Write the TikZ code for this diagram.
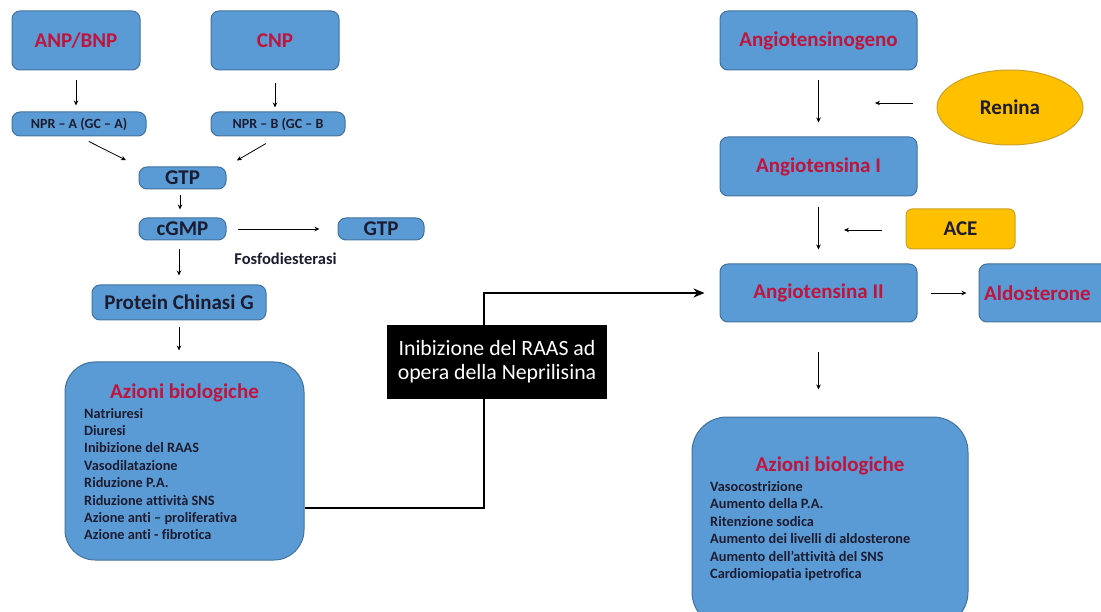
\documentclass[tikz,border=0pt]{standalone}
\usepackage{fontspec}
\setmainfont{Carlito}[Ligatures=NoCommon]
\usetikzlibrary{shapes.geometric,arrows.meta}
\definecolor{boxblue}{HTML}{5B9BD5}
\definecolor{boxline}{HTML}{41719C}
\definecolor{gold}{HTML}{FFC000}
\definecolor{goldline}{HTML}{C9A227}
\definecolor{redtxt}{HTML}{C0143C}
\definecolor{darktxt}{HTML}{1C1C30}
\begin{document}
\begin{tikzpicture}[x=1pt,y=-1pt,
	box/.style={shape=rectangle, rounded corners=8pt, draw=boxline, line width=1pt, fill=boxblue, inner sep=0pt},
	goldbox/.style={box, fill=gold, draw=goldline, rounded corners=6pt},
	big/.style={font=\bfseries\fontsize{21}{25}\selectfont},
	small/.style={font=\bfseries\fontsize{14}{16}\selectfont, text=darktxt},
	title/.style={font=\bfseries\fontsize{21}{25}\selectfont, text=redtxt},
	item/.style={anchor=base west, inner sep=0pt, font=\bfseries\fontsize{14.3}{17}\selectfont, text=darktxt},
	arr/.style={-{Stealth[length=5pt,width=4.5pt]}, line width=0.8pt},
	link/.style={line width=2.5pt},
	]
	\useasboundingbox (0,0) rectangle (1101,612);
	\node[box, big, text=redtxt, minimum width=128pt, minimum height=59pt] (anp) at (76,40.5) {ANP/BNP};
	\node[box, big, text=redtxt, minimum width=128pt, minimum height=59pt] (cnp) at (275,40.5) {CNP};
	\node[box, small, minimum width=134pt, minimum height=24pt] (npra) at (79,124) {NPR – A (GC – A)};
	\node[box, small, minimum width=134pt, minimum height=24pt] (nprb) at (278,124) {NPR – B (GC – B};
	\node[box, big, text=darktxt, minimum width=87pt, minimum height=22pt] (gtpA) at (182.5,178) {GTP};
	\node[box, big, text=darktxt, minimum width=87pt, minimum height=22pt] (cgmp) at (182.5,229) {cGMP};
	\node[box, big, text=darktxt, minimum width=86pt, minimum height=22pt] (gtpB) at (381,229) {GTP};
	\node[font=\bfseries\fontsize{16.5}{18}\selectfont, text=darktxt] (fosfo) at (285.5,259) {Fosfodiesterasi};
	\node[box, big, text=darktxt, minimum width=174pt, minimum height=35pt] (pkg) at (179,302.5) {Protein Chinasi G};
	\node[box, rounded corners=30pt, minimum width=239pt, minimum height=198pt] (azL) at (184.5,461) {};
	\node[title] (azLt) at (184.5,393) {Azioni biologiche};
	\foreach \t [count=\i] in {Natriuresi, Diuresi, Inibizione del RAAS, Vasodilatazione, Riduzione P.A., Riduzione attività SNS, Azione anti – proliferativa, Azione anti - fibrotica}
		\node[item] (azL\i) at (84,{418+17.4*(\i-1)}) {\t};

	\node[fill=black, text=white, align=center, inner sep=0pt, minimum width=220pt, minimum height=74pt, font=\fontsize{21.8}{24}\selectfont] (inib) at (497,362) {Inibizione del RAAS ad\\opera della Neprilisina};

	\node[box, big, text=redtxt, minimum width=197pt, minimum height=59pt] (agen) at (818.5,40.5) {Angiotensinogeno};
	\node[ellipse, fill=gold, draw=goldline, line width=1pt, minimum width=146pt, minimum height=75pt, big, text=darktxt] (renina) at (1010,107.5) {Renina};
	\node[box, big, text=redtxt, minimum width=197pt, minimum height=59pt] (ang1) at (818.5,166.5) {Angiotensina I};
	\node[goldbox, big, text=darktxt, minimum width=109pt, minimum height=40pt] (ace) at (960.5,229) {ACE};
	\node[box, big, text=redtxt, minimum width=197pt, minimum height=58pt] (ang2) at (818.5,293) {Angiotensina II};
	\node[box, minimum width=142pt, minimum height=58pt] (aldo) at (1050,293) {};
	\node[big, text=redtxt, anchor=west, inner sep=0pt] (aldot) at (984,293) {Aldosterone};
	\node[box, rounded corners=35pt, minimum width=276pt, minimum height=210pt] (azR) at (830,522) {};
	\node[title] (azRt) at (830,466) {Azioni biologiche};
	\foreach \t [count=\i] in {Vasocostrizione, Aumento della P.A., Ritenzione sodica, Aumento dei livelli di aldosterone, Aumento dell’attività del SNS, Cardiomiopatia ipetrofica}
		\node[item] (azR\i) at (710,{491+17.5*(\i-1)}) {\t};

	\coordinate (rtip) at (875,103);
	\coordinate (atip) at (844,230);

	\draw[arr, shorten <=10pt, shorten >=6pt] (anp.south) -- (anp.south |- npra.north);
	\draw[arr, shorten <=13pt, shorten >=4pt] (cnp.south) -- (cnp.south |- nprb.north);
	\draw[arr, shorten <=11pt, shorten >=14pt] (npra.south) -- (gtpA.north west);
	\draw[arr, shorten <=14pt, shorten >=12pt] (nprb.south) -- (gtpA.north east);
	\draw[arr, shorten <=6pt, shorten >=8pt] (gtpA.south -| 180,0) -- (cgmp.north -| 180,0);
	\draw[arr, shorten <=11pt, shorten >=18pt] (cgmp.east) -- (gtpB.west);
	\draw[arr, shorten <=9pt, shorten >=9pt] (pkg.north |- cgmp.south) -- (pkg.north);
	\draw[arr, shorten <=7pt, shorten >=11pt] (pkg.south) -- (pkg.south |- azL.north);

	\draw[link] ([yshift=-47pt]azL.east) -| ([xshift=-13pt]inib.south);
	\draw[link, -{Stealth[length=11pt,width=9pt]}, shorten >=15pt] ([xshift=-13pt]inib.north) |- (ang2.west);

	\draw[arr, shorten <=10pt, shorten >=14pt] (agen.south) -- (ang1.north);
	\draw[arr, shorten <=24pt] (renina.west |- rtip) -- (rtip);
	\draw[arr, shorten <=11pt, shorten >=14pt] (ang1.south) -- (ang2.north);
	\draw[arr, shorten <=24pt] (ace.west |- atip) -- (atip);
	\draw[arr, shorten <=13pt, shorten >=12pt] (ang2.east) -- (aldo.west);
	\draw[arr, shorten <=30pt, shorten >=27pt] (ang2.south) -- (ang2.south |- azR.north);
\end{tikzpicture}
\end{document}
